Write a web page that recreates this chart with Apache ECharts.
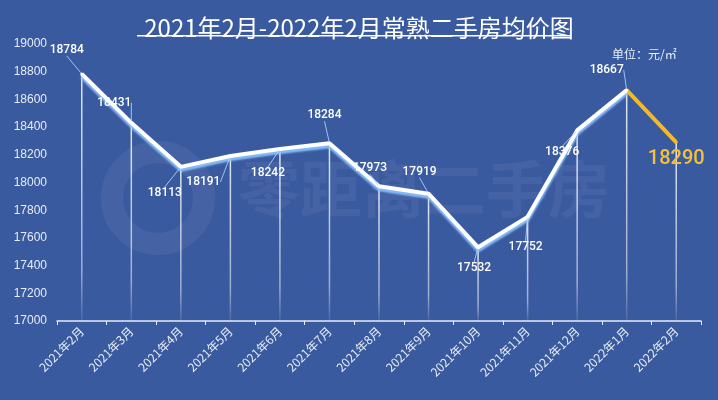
<!DOCTYPE html>
<html>
<head>
<meta charset="utf-8">
<script src="https://cdn.jsdelivr.net/npm/echarts@6/dist/echarts.min.js"></script>
<style>
html,body{margin:0;padding:0;background:#3a5a9f;}
#chart{width:718px;height:400px;}
</style>
</head>
<body>
<div id="chart"></div>
<script>
var categories = ['2021年2月','2021年3月','2021年4月','2021年5月','2021年6月','2021年7月','2021年8月','2021年9月','2021年10月','2021年11月','2021年12月','2022年1月','2022年2月'];
var prices = [18784, 18431, 18113, 18191, 18242, 18284, 17973, 17919, 17532, 17752, 18376, 18667, 18290];
var yTicks = [17000, 17200, 17400, 17600, 17800, 18000, 18200, 18400, 18600, 18800, 19000];
var titleText = '2021年2月-2022年2月常熟二手房均价图';
var unitText = '单位：元/㎡';

var labelShift = [[-15,-24],[-17,-20],[-16,26],[-27,26],[-12,24],[-5,-28],[-9,-18],[-9,-22],[-4,21],[-2,30],[-15,22],[-20,-20],[0,17]];
var last = prices.length - 1;

var whiteData = prices.map(function(v, i){ return i < last ? v : null; });
var yellowData = prices.map(function(v, i){ return i >= last - 1 ? v : null; });

var chart = echarts.init(document.getElementById('chart'));
chart.setOption({
  backgroundColor: '#3a5a9f',
  animation: false,
  title: {
    text: titleText,
    left: 'center', top: 10,
    textStyle: { color: '#ffffff', fontSize: 24, fontWeight: 'normal', fontFamily: 'Noto Sans CJK SC', lineHeight: 26 }
  },
  graphic: [
    { type: 'rect', shape: { x: 137, y: 35, width: 433, height: 1.5 }, style: { fill: '#ffffff' } },
    { type: 'text', left: 612, top: 48, style: { text: unitText, fill: '#e8eefa', fontSize: 12, fontFamily: 'Noto Sans CJK SC' } },
    { type: 'text', left: 238, top: 158, z: 0, style: { text: '零距离二手房', fill: 'rgba(255,255,255,0.06)', fontSize: 62, fontWeight: 'bold', fontFamily: 'Noto Sans CJK SC' } },
    { type: 'circle', shape: { cx: 158, cy: 198, r: 46 }, z: 0, style: { fill: 'none', stroke: 'rgba(255,255,255,0.06)', lineWidth: 22 } }
  ],
  grid: { left: 57, right: 17, top: 44, bottom: 79 },
  xAxis: {
    type: 'category',
    data: categories,
    boundaryGap: true,
    axisLine: { lineStyle: { color: '#e6ecf8', width: 1.5 } },
    axisTick: { show: true, length: 4, lineStyle: { color: '#e6ecf8' } },
    axisLabel: { color: '#e6ecf8', fontSize: 12, rotate: 45, interval: 0, margin: 8, fontFamily: 'Noto Sans CJK SC' },
    splitLine: { show: false }
  },
  yAxis: {
    type: 'value',
    min: yTicks[0], max: yTicks[yTicks.length - 1], interval: yTicks[1] - yTicks[0],
    axisLine: { show: false },
    axisTick: { show: false },
    axisLabel: { color: '#e6ecf8', fontSize: 12, margin: 10, fontFamily: 'Liberation Sans', formatter: function(v){ return String(v); } },
    splitLine: { show: false }
  },
  series: [
    {
      type: 'bar',
      data: prices,
      barWidth: 1.5,
      silent: true,
      itemStyle: {
        color: new echarts.graphic.LinearGradient(0, 0, 0, 1, [
          { offset: 0, color: 'rgba(255,255,255,0.85)' },
          { offset: 0.8, color: 'rgba(255,255,255,0.5)' },
          { offset: 1, color: 'rgba(255,255,255,0.08)' }
        ])
      },
      z: 1
    },
    {
      type: 'line',
      data: whiteData,
      symbol: 'circle', symbolSize: 3,
      itemStyle: { color: '#ffffff' },
      lineStyle: { color: '#ffffff', width: 4, shadowColor: 'rgba(140,195,255,0.95)', shadowOffsetY: 3, shadowBlur: 2 },
      z: 3,
      label: {
        show: true, position: 'inside', color: '#ffffff', fontSize: 12, fontWeight: 500, fontFamily: 'Roboto',
        formatter: function(p){ return p.value; }
      },
      labelLine: { show: true, lineStyle: { color: 'rgba(170,205,255,0.9)', width: 1 } },
      labelLayout: function(p){ var s = labelShift[p.dataIndex]; return { dx: s[0], dy: s[1] }; }
    },
    {
      type: 'line',
      data: yellowData,
      symbol: 'circle', symbolSize: 3,
      itemStyle: { color: '#f2b92a' },
      lineStyle: { color: '#f2b92a', width: 4 },
      z: 2,
      label: {
        show: true, position: 'inside', color: '#f5c13a', fontSize: 20, fontWeight: 500, fontFamily: 'Roboto',
        formatter: function(p){ return p.dataIndex === last ? p.value : ''; }
      },
      labelLayout: function(p){ var s = labelShift[p.dataIndex]; return { dx: s[0], dy: s[1] }; }
    }
  ]
});
</script>
</body>
</html>
